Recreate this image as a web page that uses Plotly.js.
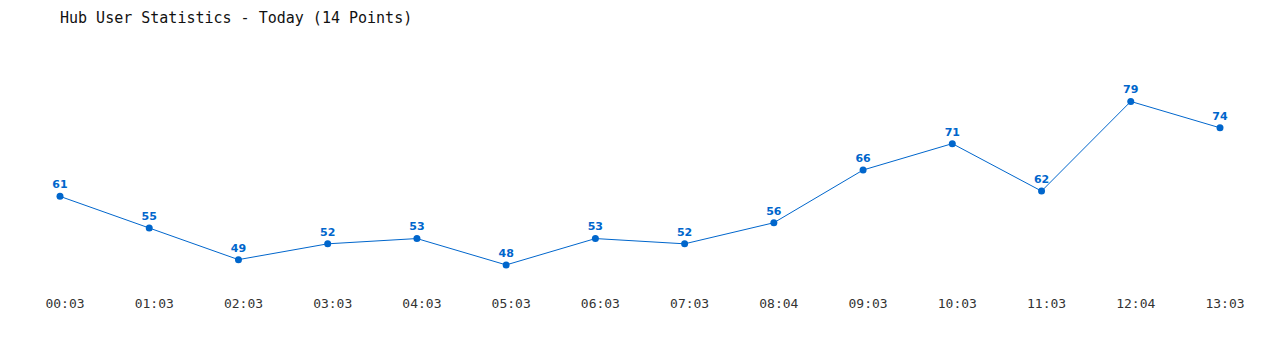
<!DOCTYPE html>
<html><head><meta charset="utf-8">
<script src="https://cdn.plot.ly/plotly-3.0.1.min.js"></script>
<style>html,body{margin:0;padding:0;background:#fff;}#chart{width:1280px;height:350px;}</style>
</head><body><div id="chart"></div>
<script>
const categories = ["00:03","01:03","02:03","03:03","04:03","05:03","06:03","07:03","08:04","09:03","10:03","11:03","12:04","13:03"];
const users = [61,55,49,52,53,48,53,52,56,66,71,62,79,74];
const titleText = "Hub User Statistics - Today (14 Points)";

const trace = {
  x: categories, y: users, type: 'scatter', mode: 'lines+markers+text',
  text: users.map(String), textposition: 'top center',
  textfont: {family: 'DejaVu Sans, Verdana, sans-serif', size: 11, color: '#0066cc', weight: 'bold'},
  line: {color: '#0066cc', width: 1},
  marker: {color: '#0066cc', size: 7},
  cliponaxis: false, hoverinfo: 'x+y'
};
const layout = {
  width: 1280, height: 350,
  margin: {l: 60, r: 60, t: 54, b: 64},
  paper_bgcolor: '#fff', plot_bgcolor: '#fff',
  title: {text: titleText, x: 0, xref: 'paper', xanchor: 'left', y: 1, yref: 'container', yanchor: 'top', pad: {t: 12, l: 0},
          font: {family: 'DejaVu Sans Mono, monospace', size: 15, color: '#111'}},
  xaxis: {type: 'category', range: [0, 13], showgrid: false, zeroline: false, showline: false,
          ticks: '', ticklabelstandoff: 8, ticklabelshift: 5,
          tickfont: {family: 'DejaVu Sans Mono, monospace', size: 13, color: '#333'}},
  yaxis: {range: [44, 88], showgrid: false, zeroline: false, showline: false, showticklabels: false, ticks: ''},
  showlegend: false
};
Plotly.newPlot('chart', [trace], layout, {displayModeBar: false, staticPlot: true});
</script></body></html>
